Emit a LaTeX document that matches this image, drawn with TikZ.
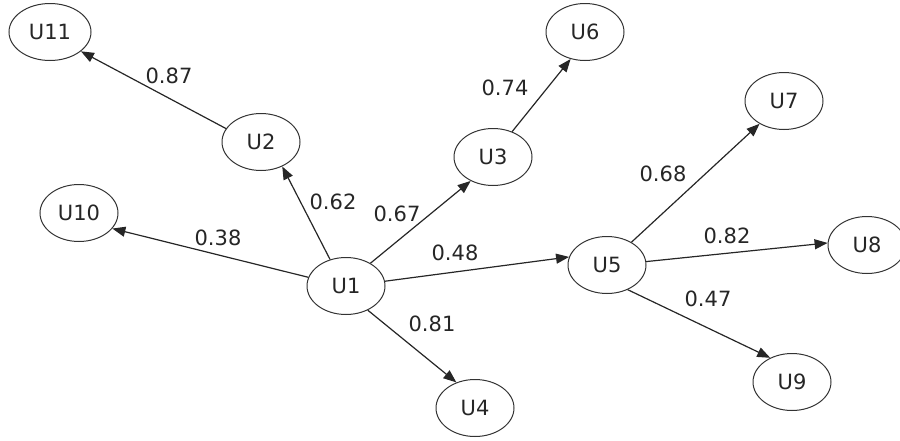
\documentclass[tikz,border=0pt]{standalone}
\usepackage{fontspec}
\setmainfont{DejaVu Sans}
\usetikzlibrary{arrows.meta,shapes.geometric}
\begin{document}
\begin{tikzpicture}[x=1pt,y=-1pt,
  user/.style={ellipse, draw=black!80, line width=1pt, minimum width=78pt,
    minimum height=57pt, inner sep=0pt, text=black!85, font=\fontsize{21}{21}\selectfont},
  link/.style={draw=black!85, line width=1.2pt, -{Triangle[length=13pt,width=10pt]}},
  wt/.style={text=black!85, font=\fontsize{21}{21}\selectfont, inner sep=0pt}]
\useasboundingbox (0,0) rectangle (900,440);
% users
\node[user] (U1)  at (346,286) {U1};
\node[user] (U2)  at (261,142) {U2};
\node[user] (U3)  at (493,157) {U3};
\node[user] (U4)  at (475,408) {U4};
\node[user] (U5)  at (607,265) {U5};
\node[user] (U6)  at (585,32)  {U6};
\node[user] (U7)  at (784,101) {U7};
\node[user] (U8)  at (867,245) {U8};
\node[user] (U9)  at (792,382) {U9};
\node[user] (U10) at (79,213)  {U10};
\node[user, minimum width=82pt] (U11) at (50,32) {U11};
% weighted links
\draw[link] (U1.167) -- (U10.-25);
\draw[link] (U1.121) -- (U2.-49);
\draw[link] (U2.159) -- (U11.-32);
\draw[link] (U1.43)  -- (U3.-133);
\draw[link] (U3.53)  -- (U6.-118);
\draw[link] (U1.7)   -- (U5.168);
\draw[link] (U1.-48) -- (U4.126);
\draw[link] (U5.43)  -- (U7.-137);
\draw[link] (U5.5)   -- (U8.177);
\draw[link] (U5.-50) -- (U9.132);
% weights
\node[wt] (w10) at (218,238) {0.38};
\node[wt] (w2)  at (333,202) {0.62};
\node[wt] (w11) at (169,76)  {0.87};
\node[wt] (w3)  at (397,214) {0.67};
\node[wt] (w6)  at (505,88)  {0.74};
\node[wt] (w5)  at (455,253) {0.48};
\node[wt] (w4)  at (432,324) {0.81};
\node[wt] (w7)  at (663,174) {0.68};
\node[wt] (w8)  at (727,236) {0.82};
\node[wt] (w9)  at (708,299) {0.47};
\end{tikzpicture}
\end{document}
